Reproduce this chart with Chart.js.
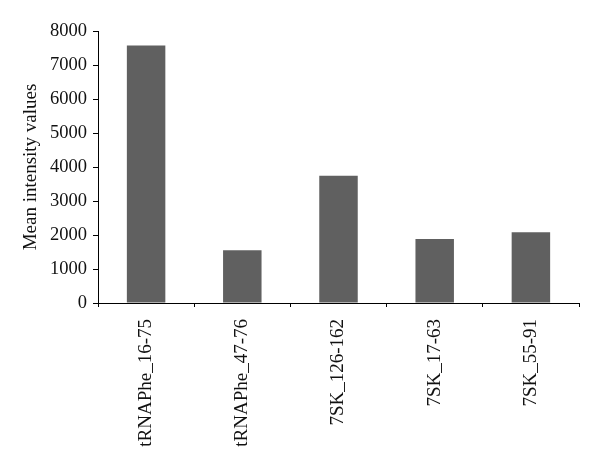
<!DOCTYPE html>
<html>
<head>
<meta charset="utf-8">
<script src="https://cdn.jsdelivr.net/npm/chart.js@4"></script>
<style>
	html, body { margin: 0; padding: 0; background: #fff; }
	.graphic { width: 600px; height: 469px; }
</style>
</head>
<body>
<div class="graphic"><canvas class="graphic__canvas" width="600" height="469"></canvas></div>
<script>
const CATEGORIES = ['tRNAPhe_16-75', 'tRNAPhe_47-76', '7SK_126-162', '7SK_17-63', '7SK_55-91'];
const VALUES = [7570, 1550, 3745, 1885, 2080];
const Y_TICKS = [0, 1000, 2000, 3000, 4000, 5000, 6000, 7000, 8000];
const Y_TITLE = 'Mean intensity values';

window.addEventListener('load', () => {
	let canvas = document.querySelector('.graphic__canvas');
	const FONT = 'Liberation Serif';
	const TEXT = '#111';

	new Chart(canvas, {
		type: 'bar',
		data: {
			labels: CATEGORIES,
			datasets: [{
				data: VALUES,
				backgroundColor: '#606060',
				barPercentage: 0.4,
				categoryPercentage: 1
			}]
		},
		options: {
			responsive: false,
			animation: false,
			layout: { padding: { top: 31, right: 21, left: 0, bottom: 0 } },
			plugins: {
				legend: { display: false },
				tooltip: { enabled: false }
			},
			scales: {
				x: {
					grid: {
						offset: true,
						drawOnChartArea: false,
						color: '#000',
						tickLength: 4
					},
					border: { color: '#000', width: 1 },
					ticks: {
						color: TEXT,
						font: { family: FONT, size: 19 },
						maxRotation: 90,
						minRotation: 90,
						padding: 12
					},
					afterFit: (scale) => { scale.height = 166; }
				},
				y: {
					min: 0,
					max: 8000,
					afterBuildTicks: (scale) => {
						scale.ticks = Y_TICKS.map((v) => ({ value: v }));
					},
					grid: {
						drawOnChartArea: false,
						color: '#000',
						tickLength: 5
					},
					border: { color: '#000', width: 1 },
					ticks: {
						color: TEXT,
						font: { family: FONT, size: 18.5 },
						padding: 6,
						callback: (value) => String(value)
					},
					title: {
						display: true,
						text: Y_TITLE,
						color: TEXT,
						font: { family: FONT, size: 19 },
						padding: { top: 20, bottom: 0 }
					},
					afterFit: (scale) => { scale.width = 98; }
				}
			}
		}
	});
}, { once: true });
</script>
</body>
</html>
